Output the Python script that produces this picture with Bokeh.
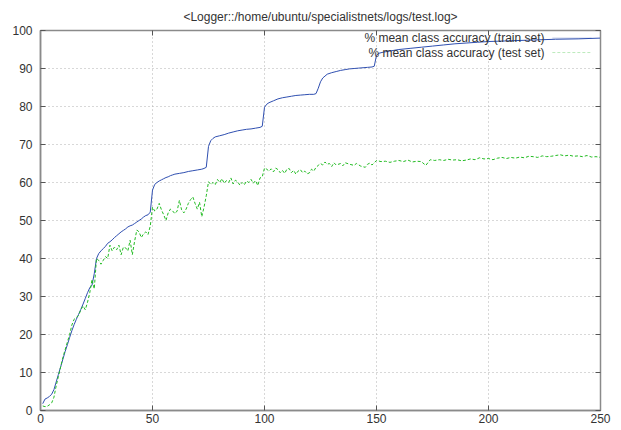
from bokeh.plotting import figure
from bokeh.models import Range1d, FixedTicker, LinearAxis, Label, PolyAnnotation
from bokeh.embed import file_html
from bokeh.resources import INLINE

TITLE = "<Logger::/home/ubuntu/specialistnets/logs/test.log>"
TRAIN_LABEL = "% mean class accuracy (train set)"
TEST_LABEL = "% mean class accuracy (test set)"

X_TICKS = [0, 50, 100, 150, 200, 250]
Y_TICKS = [0, 10, 20, 30, 40, 50, 60, 70, 80, 90, 100]

train_x = [1, 2, 3, 4, 5, 6, 7, 8, 9, 10, 11, 12, 13, 14, 15, 16, 17, 18, 19, 20,
           21, 22, 23, 24, 25, 26, 27, 28, 29, 30, 31, 32, 33, 34, 35, 36, 37, 38, 39, 40,
           41, 42, 43, 44, 45, 46, 47, 48, 49, 50, 51, 52, 53, 54, 55, 56, 57, 58, 59, 60,
           62, 64, 66, 68, 70, 72, 73, 74, 75, 76, 77, 78, 80, 82, 84, 86, 88, 90, 92, 94,
           96, 98, 99, 100, 101, 102, 104, 106, 108, 110, 112, 114, 116, 118, 120, 122, 123, 124, 125, 126,
           127, 128, 130, 132, 134, 136, 138, 140, 142, 144, 146, 148, 149, 150, 151, 153, 156, 160, 165, 170,
           175, 180, 185, 190, 195, 200, 210, 220, 230, 240, 250]
train_y = [1.8, 3.0, 3.3, 3.7, 4.3, 5.5, 7.5, 9.5, 11.5, 13.5, 15.5, 17.3, 19.2, 21.0, 22.6, 24.0, 25.3, 26.6, 28.0, 29.5,
           31.0, 32.3, 33.0, 36.0, 40.0, 41.3, 42.0, 42.6, 43.2, 44.0, 44.4, 44.9, 45.5, 46.0, 46.5, 47.0, 47.4, 47.8, 48.3, 48.6,
           48.8, 49.2, 49.6, 50.0, 50.4, 50.9, 51.3, 51.5, 52.2, 58.0, 59.5, 60.0, 60.4, 60.7, 61.0, 61.3, 61.5, 61.8, 62.0, 62.2,
           62.4, 62.6, 62.9, 63.1, 63.3, 63.5, 63.7, 64.0, 69.5, 71.0, 71.6, 72.0, 72.3, 72.6, 73.0, 73.3, 73.6, 73.8, 74.0, 74.1,
           74.3, 74.5, 74.8, 79.8, 80.6, 81.0, 81.5, 82.0, 82.3, 82.5, 82.7, 82.9, 83.0, 83.1, 83.2, 83.2, 83.4, 84.8, 86.5, 87.5,
           88.0, 88.5, 88.9, 89.2, 89.5, 89.7, 89.9, 90.0, 90.1, 90.2, 90.3, 90.4, 90.6, 93.5, 94.0, 94.3, 94.6, 95.0, 95.3, 95.6,
           95.9, 96.2, 96.5, 96.7, 96.9, 97.1, 97.3, 97.5, 97.7, 97.8, 98.0]

test_x = [1, 2, 3, 4, 5, 6, 7, 8, 9, 10, 11, 12, 13, 14, 15, 16, 17, 18, 19, 20,
          21, 22, 23, 24, 25, 26, 27, 28, 29, 30, 31, 32, 33, 34, 35, 36, 37, 38, 39, 40,
          41, 42, 43, 44, 45, 46, 47, 48, 49, 50, 51, 52, 53, 54, 55, 56, 57, 58, 59, 60,
          61, 62, 63, 64, 65, 66, 67, 68, 69, 70, 71, 72, 73, 74, 75, 76, 77, 78, 79, 80,
          81, 82, 83, 84, 85, 86, 87, 88, 89, 90, 91, 92, 93, 94, 95, 96, 97, 98, 99, 100,
          101, 102, 103, 104, 105, 106, 107, 108, 109, 110, 111, 112, 113, 114, 115, 116, 117, 118, 119, 120,
          121, 122, 123, 124, 125, 126, 127, 128, 129, 130, 131, 132, 134, 135, 136, 138, 140, 141, 143, 145,
          146, 147, 148, 150, 152, 154, 156, 158, 160, 162, 164, 166, 168, 170, 172, 174, 176, 178, 180, 182,
          184, 186, 188, 190, 192, 194, 196, 198, 200, 202, 204, 206, 208, 210, 212, 214, 216, 218, 220, 222,
          224, 226, 228, 230, 232, 234, 236, 238, 240, 242, 244, 246, 248, 250]
test_y = [1.2, 1.0, 1.1, 1.5, 2.0, 3.5, 6.5, 9.0, 11.5, 14.0, 16.0, 18.0, 20.0, 22.5, 24.0, 24.5, 25.0, 26.5, 27.5, 26.5,
          28.5, 31.0, 34.5, 32.0, 40.0, 39.5, 38.5, 39.5, 40.5, 40.0, 43.5, 42.0, 43.0, 42.3, 43.5, 41.0, 43.0, 42.8, 42.0, 44.8,
          41.0, 44.5, 47.5, 47.0, 45.5, 46.5, 47.0, 46.3, 48.5, 53.5, 52.5, 53.0, 54.5, 52.8, 51.5, 50.0, 52.0, 53.0, 52.5, 51.8,
          52.5, 55.3, 52.8, 52.0, 53.0, 54.5, 55.5, 56.2, 54.5, 53.0, 54.8, 51.0, 53.5, 56.5, 60.2, 59.5, 60.0, 59.4, 60.8, 60.0,
          61.0, 59.8, 60.5, 60.0, 61.2, 59.6, 60.6, 60.2, 59.3, 60.0, 59.4, 60.4, 60.0, 60.8, 59.8, 60.5, 59.2, 61.2, 61.5, 63.8,
          63.5, 63.0, 63.6, 62.8, 63.8, 63.4, 62.6, 63.2, 62.4, 63.5, 63.7, 62.6, 63.2, 62.2, 63.0, 63.4, 62.6, 63.0, 62.3, 62.5,
          63.5, 63.0, 64.0, 64.5, 65.0, 64.6, 65.4, 64.8, 65.0, 64.2, 65.2, 64.6, 65.0, 64.4, 65.2, 64.8, 64.5, 65.0, 64.3, 64.0,
          64.8, 65.1, 64.6, 65.8, 65.5, 65.6, 65.3, 65.6, 65.8, 65.5, 65.9, 65.4, 65.6, 65.5, 64.5, 66.0, 65.8, 66.0, 65.8, 66.1,
          65.9, 66.0, 65.7, 65.9, 66.2, 66.0, 66.5, 66.2, 66.3, 66.0, 66.4, 66.6, 66.3, 66.6, 66.4, 66.7, 66.5, 66.9, 66.8, 66.6,
          67.0, 66.8, 66.9, 67.1, 67.3, 67.0, 67.2, 66.9, 67.0, 66.8, 67.1, 66.7, 66.8, 66.6]

TRAIN_COLOR = "#2f4fb0"
TEST_COLOR = "#22bb22"
FONT = "Liberation Sans"
TEXT_COLOR = "#333333"
FRAME_COLOR = "#8a8a8a"

p = figure(width=612, height=425, output_backend="svg", toolbar_location=None,
           x_range=Range1d(0, 250), y_range=Range1d(0, 100),
           min_border_left=40, min_border_right=12, min_border_top=30, min_border_bottom=12)

p.title.text = TITLE
p.title.align = "center"
p.title.vertical_align = "top"
p.title.text_font = FONT
p.title.text_font_size = "12px"
p.title.text_font_style = "normal"
p.title.text_color = TEXT_COLOR
p.title.standoff = 10

p.outline_line_color = FRAME_COLOR
p.outline_line_width = 1.5
p.outline_line_alpha = 1.0

p.line(train_x, train_y, line_color=TRAIN_COLOR, line_width=1.0)
p.line(test_x, test_y, line_color=TEST_COLOR, line_width=1.0, line_dash="3 2")

for ax in (p.xaxis[0], p.yaxis[0]):
    ax.axis_line_color = FRAME_COLOR
    ax.axis_line_width = 1.5
    ax.major_tick_in = 5
    ax.major_tick_out = 0
    ax.minor_tick_line_color = None
    ax.major_tick_line_color = "#555555"
    ax.major_label_text_font = FONT
    ax.major_label_text_font_size = "12px"
    ax.major_label_text_color = TEXT_COLOR

p.xaxis[0].ticker = FixedTicker(ticks=X_TICKS)
p.yaxis[0].ticker = FixedTicker(ticks=Y_TICKS)
p.xaxis[0].major_label_standoff = 3
p.yaxis[0].major_label_standoff = 8

top_ax = LinearAxis(ticker=FixedTicker(ticks=X_TICKS), major_label_text_color=None,
                    major_label_text_font_size="1px",
                    major_tick_in=5, major_tick_out=0, minor_tick_line_color=None,
                    axis_line_color=FRAME_COLOR, major_tick_line_color="#555555",
                    major_label_standoff=0)
right_ax = LinearAxis(ticker=FixedTicker(ticks=Y_TICKS), major_label_text_color=None,
                      major_label_text_font_size="1px",
                      major_tick_in=5, major_tick_out=0, minor_tick_line_color=None,
                      axis_line_color=FRAME_COLOR, major_tick_line_color="#555555",
                      major_label_standoff=0)
p.add_layout(top_ax, "above")
p.add_layout(right_ax, "right")

p.xgrid.ticker = FixedTicker(ticks=X_TICKS)
p.ygrid.ticker = FixedTicker(ticks=Y_TICKS)
for g in (p.xgrid[0], p.ygrid[0]):
    g.grid_line_color = "#b0b0b0"
    g.grid_line_dash = "1 3"
    g.grid_line_width = 1

# gnuplot-style key: text right-aligned, sample to the right
KEY_TEXT_X = 225
KEY_SAMPLE_X = [228.5, 246]
KEY_Y = [98.0, 94.2]
p.add_layout(Label(x=KEY_TEXT_X, y=KEY_Y[0], text=TRAIN_LABEL, text_align="right",
                   text_baseline="middle", text_font=FONT, text_font_size="12px",
                   text_color=TEXT_COLOR))
p.add_layout(Label(x=KEY_TEXT_X, y=KEY_Y[1], text=TEST_LABEL, text_align="right",
                   text_baseline="middle", text_font=FONT, text_font_size="12px",
                   text_color=TEXT_COLOR))
p.add_layout(PolyAnnotation(xs=KEY_SAMPLE_X, ys=[KEY_Y[0], KEY_Y[0]], fill_alpha=0,
                            line_color=TRAIN_COLOR, line_width=1.0))
p.add_layout(PolyAnnotation(xs=KEY_SAMPLE_X, ys=[KEY_Y[1], KEY_Y[1]], fill_alpha=0,
                            line_color=TEST_COLOR, line_width=1.0, line_dash="3 2"))

open("out.html", "w").write(file_html(p, INLINE))
